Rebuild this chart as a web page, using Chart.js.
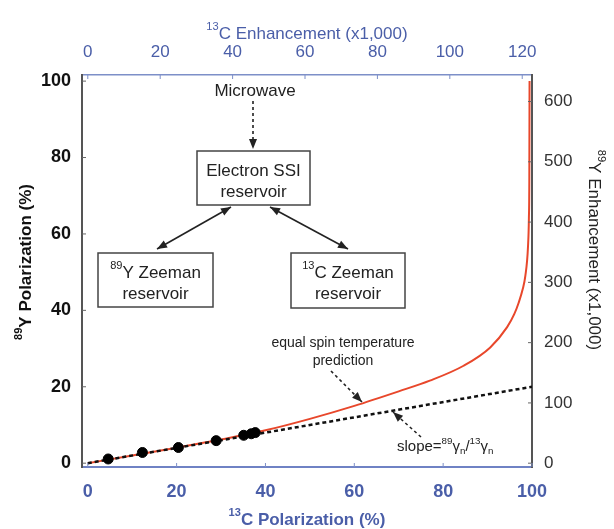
<!DOCTYPE html>
<html>
<head>
<meta charset="utf-8">
<script src="https://cdn.jsdelivr.net/npm/chart.js@4.4.0/dist/chart.umd.min.js"></script>
<style>
  html, body { margin: 0; padding: 0; background: #fff; }
  #wrap { width: 614px; height: 529px; position: relative; }
</style>
</head>
<body>
<div id="wrap"><canvas id="chart"></canvas></div>
<script>
// theory curve (equal spin temperature)
const curveX = [0, 10, 20, 30, 40, 50, 60, 70, 77, 84.6, 90.6, 94.4, 96.0, 97.0, 97.9, 98.5, 99.1, 99.3, 99.4, 99.45];
const curveY = [0, 2.0, 4.05, 6.2, 8.6, 11.6, 15.0, 18.8, 21.6, 25.5, 30.3, 35.6, 39.0, 42.0, 45.5, 49.0, 56.7, 64.0, 75.0, 100];
// slope line 89gamma/13gamma
const slopeX = [0, 100];
const slopeY = [0, 20];
// measured points
const dotX = [4.6, 12.3, 20.4, 28.9, 35.1, 36.8, 37.7];
const dotY = [1.1, 2.8, 4.1, 5.9, 7.3, 7.7, 8.0];
// tick labels
const bottomTicks = [0, 20, 40, 60, 80, 100];
const topTicks = [0, 20, 40, 60, 80, 100, 120];
const leftTicks = [0, 20, 40, 60, 80, 100];
const rightTicks = [0, 100, 200, 300, 400, 500, 600];

const BLUE = '#4a5ea8';
const FONT = '"Liberation Sans", Arial, Helvetica, sans-serif';

function pts(xs, ys) {
  return xs.map(function (x, i) { return { x: x, y: ys[i] }; });
}
function fixTicks(list) {
  return function (scale) {
    scale.ticks = list.map(function (v) { return { value: v }; });
  };
}

// text with super/subscripts: parts = [[text, 'sup'|'sub'|undefined], ...]
function richWidth(ctx, parts, size, weight) {
  let w = 0;
  parts.forEach(function (p) {
    const s = p[1] ? size * 0.65 : size;
    ctx.font = weight + ' ' + s + 'px ' + FONT;
    w += ctx.measureText(p[0]).width;
  });
  return w;
}
function drawRich(ctx, parts, x, y, size, weight, color, align) {
  const w = richWidth(ctx, parts, size, weight);
  let cx = align === 'left' ? x : x - w / 2;
  ctx.fillStyle = color;
  ctx.textBaseline = 'middle';
  ctx.textAlign = 'left';
  parts.forEach(function (p) {
    let s = size, dy = 0;
    if (p[1] === 'sup') { s = size * 0.65; dy = -size * 0.4; }
    if (p[1] === 'sub') { s = size * 0.65; dy = size * 0.3; }
    ctx.font = weight + ' ' + s + 'px ' + FONT;
    ctx.fillText(p[0], cx, y + dy);
    cx += ctx.measureText(p[0]).width;
  });
}
function arrowHead(ctx, x0, y0, x1, y1, len, wid) {
  const a = Math.atan2(y1 - y0, x1 - x0);
  ctx.beginPath();
  ctx.moveTo(x1, y1);
  ctx.lineTo(x1 - len * Math.cos(a) + wid * Math.sin(a), y1 - len * Math.sin(a) - wid * Math.cos(a));
  ctx.lineTo(x1 - len * Math.cos(a) - wid * Math.sin(a), y1 - len * Math.sin(a) + wid * Math.cos(a));
  ctx.closePath();
  ctx.fill();
}
function arrow(ctx, x0, y0, x1, y1, dashed, both) {
  ctx.save();
  ctx.strokeStyle = '#222';
  ctx.fillStyle = '#222';
  ctx.lineWidth = 1.6;
  if (dashed) ctx.setLineDash([3, 3]);
  ctx.beginPath();
  ctx.moveTo(x0, y0);
  ctx.lineTo(x1, y1);
  ctx.stroke();
  ctx.setLineDash([]);
  arrowHead(ctx, x0, y0, x1, y1, 10, 4);
  if (both) arrowHead(ctx, x1, y1, x0, y0, 10, 4);
  ctx.restore();
}
function box(ctx, x0, y0, x1, y1, line1, line2) {
  ctx.save();
  ctx.fillStyle = '#fff';
  ctx.fillRect(x0, y0, x1 - x0, y1 - y0);
  ctx.strokeStyle = '#444';
  ctx.lineWidth = 1.5;
  ctx.strokeRect(x0, y0, x1 - x0, y1 - y0);
  const cx = (x0 + x1) / 2;
  drawRich(ctx, line1, cx, y0 + 20, 17, 'normal', '#222');
  drawRich(ctx, line2, cx, y0 + 41, 17, 'normal', '#222');
  ctx.restore();
}

const decorations = {
  id: 'decorations',
  afterDraw: function (chart) {
    const ctx = chart.ctx;
    const area = chart.chartArea;
    const sc = chart.scales;
    ctx.save();

    // inward tick marks
    ctx.lineWidth = 1;
    ctx.strokeStyle = '#666';
    sc.y.ticks.forEach(function (t) {
      const p = sc.y.getPixelForValue(t.value);
      ctx.beginPath(); ctx.moveTo(area.left, p); ctx.lineTo(area.left + 4, p); ctx.stroke();
    });
    sc.y2.ticks.forEach(function (t) {
      const p = sc.y2.getPixelForValue(t.value);
      ctx.beginPath(); ctx.moveTo(area.right, p); ctx.lineTo(area.right - 4, p); ctx.stroke();
    });
    ctx.strokeStyle = '#7d8fc8';
    sc.x.ticks.forEach(function (t) {
      const p = sc.x.getPixelForValue(t.value);
      ctx.beginPath(); ctx.moveTo(p, area.bottom); ctx.lineTo(p, area.bottom - 4); ctx.stroke();
    });
    sc.x2.ticks.forEach(function (t) {
      const p = sc.x2.getPixelForValue(t.value);
      ctx.beginPath(); ctx.moveTo(p, area.top); ctx.lineTo(p, area.top + 4); ctx.stroke();
    });

    // axis titles
    drawRich(ctx, [['13', 'sup'], ['C Enhancement (x1,000)']], (area.left + area.right) / 2, 34, 17, 'normal', BLUE);
    drawRich(ctx, [['13', 'sup'], ['C Polarization (%)']], (area.left + area.right) / 2, 520, 17, 'bold', BLUE);
    ctx.save();
    ctx.translate(26, 262);
    ctx.rotate(-Math.PI / 2);
    drawRich(ctx, [['89', 'sup'], ['Y Polarization (%)']], 0, 0, 17, 'bold', '#111');
    ctx.restore();
    ctx.save();
    ctx.translate(594, 250);
    ctx.rotate(Math.PI / 2);
    drawRich(ctx, [['89', 'sup'], ['Y Enhancement (x1,000)']], 0, 0, 17, 'normal', '#222');
    ctx.restore();

    // reservoir diagram
    drawRich(ctx, [['Microwave']], 255, 91, 17, 'normal', '#222');
    arrow(ctx, 253, 101, 253, 149, true, false);
    arrow(ctx, 231, 207, 157, 249, false, true);
    arrow(ctx, 270, 207, 348, 249, false, true);
    box(ctx, 197, 151, 310, 205, [['Electron SSI']], [['reservoir']]);
    box(ctx, 98, 253, 213, 307, [['89', 'sup'], ['Y Zeeman']], [['reservoir']]);
    box(ctx, 291, 253, 405, 308, [['13', 'sup'], ['C Zeeman']], [['reservoir']]);

    // annotations
    drawRich(ctx, [['equal spin temperature']], 343, 343, 14, 'normal', '#222');
    drawRich(ctx, [['prediction']], 343, 361, 14, 'normal', '#222');
    arrow(ctx, 331, 371, 362, 402, true, false);
    drawRich(ctx, [['slope='], ['89', 'sup'], ['\u03b3'], ['n', 'sub'], ['/'], ['13', 'sup'], ['\u03b3'], ['n', 'sub']], 397, 447, 15, 'normal', '#222', 'left');
    arrow(ctx, 421, 437, 393, 412, true, false);

    ctx.restore();
  }
};

new Chart(document.getElementById('chart'), {
  type: 'scatter',
  data: {
    datasets: [{
      label: 'dots',
      data: pts(dotX, dotY),
      backgroundColor: '#000',
      borderColor: '#000',
      pointRadius: 5,
      showLine: false,
      order: 0
    }, {
      label: 'slope',
      data: pts(slopeX, slopeY),
      showLine: true,
      borderColor: '#111',
      borderWidth: 2.5,
      borderDash: [4, 3],
      pointRadius: 0,
      order: 1
    }, {
      label: 'theory',
      data: pts(curveX, curveY),
      showLine: true,
      borderColor: '#e8472b',
      borderWidth: 2,
      cubicInterpolationMode: 'monotone',
      pointRadius: 0,
      order: 2
    }]
  },
  options: {
    responsive: true,
    maintainAspectRatio: false,
    animation: false,
    layout: { padding: 0 },
    plugins: {
      legend: { display: false },
      tooltip: { enabled: false }
    },
    scales: {
      x: {
        type: 'linear',
        position: 'bottom',
        min: -1.3,
        max: 100,
        afterBuildTicks: fixTicks(bottomTicks),
        afterFit: function (s) { s.height = 62; },
        grid: { display: false },
        border: { color: '#6f82c4', width: 2 },
        ticks: { color: BLUE, padding: 6, font: { family: FONT, size: 18, weight: 'bold' } }
      },
      x2: {
        type: 'linear',
        position: 'top',
        min: -1.6,
        max: 122.7,
        afterBuildTicks: fixTicks(topTicks),
        afterFit: function (s) { s.height = 75; },
        grid: { display: false },
        border: { color: '#7d8fc8', width: 1.5 },
        ticks: { color: BLUE, padding: 4, font: { family: FONT, size: 17 } }
      },
      y: {
        type: 'linear',
        position: 'left',
        min: -1,
        max: 101.6,
        afterBuildTicks: fixTicks(leftTicks),
        afterFit: function (s) { s.width = 82; },
        grid: { display: false },
        border: { color: '#555', width: 2 },
        ticks: { color: '#111', padding: 3, font: { family: FONT, size: 18, weight: 'bold' } }
      },
      y2: {
        type: 'linear',
        position: 'right',
        min: -6.3,
        max: 644,
        afterBuildTicks: fixTicks(rightTicks),
        afterFit: function (s) { s.width = 82; },
        grid: { display: false },
        border: { color: '#555', width: 2 },
        ticks: { color: '#333', padding: 4, font: { family: FONT, size: 17 } }
      }
    }
  },
  plugins: [decorations]
});
</script>
</body>
</html>
